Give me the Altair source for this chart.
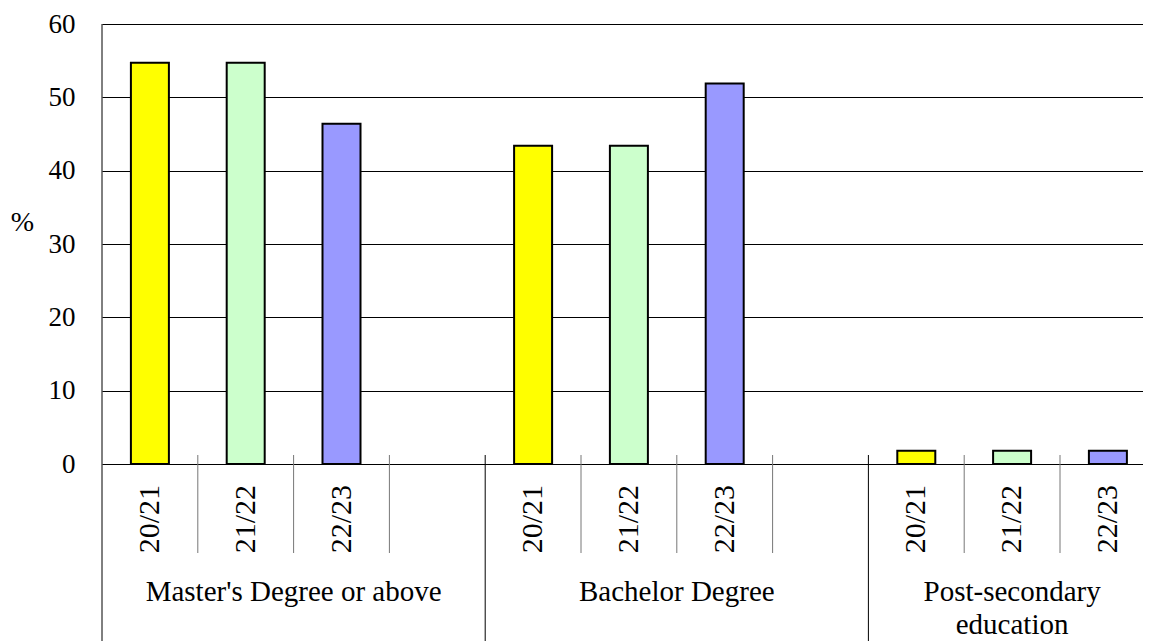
import altair as alt
import pandas as pd

# ---- data ----
groups = ["Master's Degree or above", "Bachelor Degree", "Post-secondary education"]
group_lines = [["Master's Degree or above"], ["Bachelor Degree"], ["Post-secondary", "education"]]
years = ["20/21", "21/22", "22/23"]
v_2021 = [54.7, 43.4, 1.8]
v_2122 = [54.7, 43.4, 1.8]
v_2223 = [46.4, 51.9, 1.8]
colors = ["#FFFF00", "#CCFFCC", "#9999FF"]
y_ticks = [0, 10, 20, 30, 40, 50, 60]

# ---- layout ----
SLOTS_PER_GROUP = 4          # 3 bars + an empty slot
TOTAL_SLOTS = 11
PX_PER_SLOT = 95.8
W, H = 1041, 617
PX_PER_UNIT = 440 / 60.0
Y_MIN = 60 - H / PX_PER_UNIT
FONT = "Liberation Serif"

series = [v_2021, v_2122, v_2223]
rows = []
for g, grp in enumerate(groups):
    for i, yr in enumerate(years):
        rows.append({"group": grp, "year": yr, "value": series[i][g],
                     "x": g * SLOTS_PER_GROUP + i + 0.5})
df = pd.DataFrame(rows)

grp_rows = []
for g, grp in enumerate(groups):
    start = g * SLOTS_PER_GROUP
    end = min(start + SLOTS_PER_GROUP, TOTAL_SLOTS)
    grp_rows.append({"group": grp, "lines": group_lines[g], "x": (start + end) / 2})
gdf = pd.DataFrame(grp_rows)

slot_sep = pd.DataFrame({"x": [b for b in range(1, TOTAL_SLOTS) if b % SLOTS_PER_GROUP != 0]})
group_sep = pd.DataFrame({"x": [b for b in range(SLOTS_PER_GROUP, TOTAL_SLOTS, SLOTS_PER_GROUP)]})
left_border = pd.DataFrame({"x": [0]})

xscale = alt.Scale(domain=[0, W / PX_PER_SLOT], nice=False, zero=False, padding=0)
yscale = alt.Scale(domain=[Y_MIN, 60], nice=False, zero=False, padding=0)

bars = alt.Chart(df).mark_bar(width=38, stroke="black", strokeWidth=2).encode(
    x=alt.X("x:Q", scale=xscale, axis=None),
    y=alt.Y("value:Q", scale=yscale, axis=alt.Axis(
        values=y_ticks, grid=True, gridColor="black", gridOpacity=1, gridWidth=1,
        domain=False, ticks=False, labelFont=FONT, labelFontSize=27, labelColor="black",
        labelPadding=27, title="%", titleAngle=0, titleX=-80, titleY=198,
        titleFont=FONT, titleFontSize=28, titleFontWeight="normal", titleColor="black",
        titleAlign="center", titleBaseline="middle")),
    y2=alt.datum(0),
    color=alt.Color("year:N", scale=alt.Scale(domain=years, range=colors), legend=None),
)

year_labels = alt.Chart(df).mark_text(
    angle=270, align="right", baseline="middle", font=FONT, fontSize=30, color="black"
).encode(x=alt.X("x:Q", scale=xscale), y=alt.value(461), text="year:N")

group_labels = alt.Chart(gdf).mark_text(
    align="center", baseline="alphabetic", font=FONT, fontSize=29, color="black", lineHeight=33
).encode(x=alt.X("x:Q", scale=xscale), y=alt.value(577), text="lines")

slot_rules = alt.Chart(slot_sep).mark_rule(color="#777777", strokeWidth=1).encode(
    x=alt.X("x:Q", scale=xscale), y=alt.value(431), y2=alt.value(529))
group_rules = alt.Chart(group_sep).mark_rule(color="black", strokeWidth=1).encode(
    x=alt.X("x:Q", scale=xscale), y=alt.value(431), y2=alt.value(H))
left_rule = alt.Chart(left_border).mark_rule(color="black", strokeWidth=1).encode(
    x=alt.X("x:Q", scale=xscale), y=alt.value(0), y2=alt.value(H))

chart = alt.layer(bars, slot_rules, group_rules, left_rule, year_labels, group_labels).properties(
    width=W, height=H,
    autosize=alt.AutoSizeParams(type="none"),
    padding={"left": 94, "top": 16, "right": 0, "bottom": 0},
    background="white",
).configure_view(stroke=None)

chart.save("out.html", embed_options={"renderer": "svg", "actions": False})
